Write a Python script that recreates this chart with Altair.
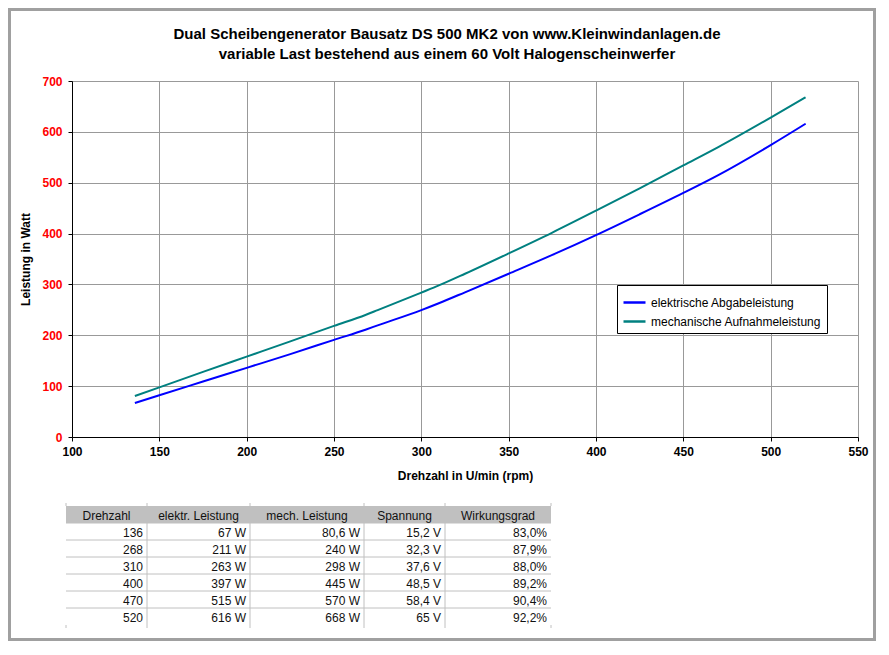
import altair as alt
import pandas as pd

# ---------------- data ----------------
title_lines = [
    "Dual Scheibengenerator Bausatz DS 500 MK2 von www.Kleinwindanlagen.de",
    "variable Last bestehend aus einem 60 Volt Halogenscheinwerfer",
]
x_title = "Drehzahl in U/min (rpm)"
y_title = "Leistung in Watt"
series_names = ["elektrische Abgabeleistung", "mechanische Aufnahmeleistung"]
series_colors = ["#0000FF", "#008080"]

rpm = [136, 150, 175, 200, 225, 250, 268, 275, 300, 310, 325, 350, 375, 400, 425, 450, 470, 500, 520]
elec = [67, 82, 109, 136, 163, 191, 211, 219.5, 249.5, 263, 284.5, 321, 358, 397, 438, 480, 515, 574, 616]
mech = [80.6, 97.5, 128, 158, 188, 218.5, 240, 249.5, 284, 298, 321, 361, 402, 445, 489, 534, 570, 628, 668]

x_ticks = [100, 150, 200, 250, 300, 350, 400, 450, 500, 550]
y_ticks = [0, 100, 200, 300, 400, 500, 600, 700]

table_header = ["Drehzahl", "elektr. Leistung", "mech. Leistung", "Spannung", "Wirkungsgrad"]
tab_drehzahl = [136, 268, 310, 400, 470, 520]
tab_elektr = [67, 211, 263, 397, 515, 616]
tab_mech = [80.6, 240, 298, 445, 570, 668]
tab_spannung = [15.2, 32.3, 37.6, 48.5, 58.4, 65]
tab_wirkung = [83.0, 87.9, 88.0, 89.2, 90.4, 92.2]

# ---------------- layout (pixels, relative to plot origin) ----------------
FONT = "Liberation Sans"
PLOT_W, PLOT_H = 786, 356
PAD_L, PAD_T, PAD_R, PAD_B = 64, 73, 18, 204

col_edges = [-6, 75, 178, 292, 373, 479]
head_top = 425
row_h = 17
n_rows = len(tab_drehzahl)

# ---------------- frames ----------------
def de(v, fmt):
    return format(v, fmt).replace(".", ",")

line_df = pd.DataFrame(
    {"rpm": rpm * 2,
     "watt": elec + mech,
     "series": [series_names[0]] * len(rpm) + [series_names[1]] * len(rpm)}
)

cells = []
cols_text = [
    [str(v) for v in tab_drehzahl],
    [de(v, "g") + " W" for v in tab_elektr],
    [de(v, "g") + " W" for v in tab_mech],
    [de(v, "g") + " V" for v in tab_spannung],
    [de(v, ".1f") + "%" for v in tab_wirkung],
]
for c, col in enumerate(cols_text):
    for r, t in enumerate(col):
        cells.append({"px": col_edges[c + 1] - 4,
                      "py": head_top + row_h * (r + 1) + row_h / 2 + 1,
                      "t": t})
cell_df = pd.DataFrame(cells)
head_df = pd.DataFrame({
    "px": [(col_edges[i] + col_edges[i + 1]) / 2 for i in range(len(table_header))],
    "py": [head_top + row_h / 2 + 1] * len(table_header),
    "t": table_header,
})
hline_df = pd.DataFrame({"py": [head_top + row_h * (i + 1) for i in range(n_rows)]})
vline_df = pd.DataFrame({"px": col_edges[1:-1]})
stub_df = pd.DataFrame({
    "px": [col_edges[0], col_edges[0], col_edges[-1], col_edges[-1]],
    "py": [head_top - 3, head_top + row_h * (n_rows + 1), head_top - 3, head_top + row_h * (n_rows + 1)],
    "py2": [head_top, head_top + row_h * (n_rows + 1) + 3, head_top, head_top + row_h * (n_rows + 1) + 3],
})
one = pd.DataFrame({"a": [0]})

# ---------------- chart ----------------
lines = alt.Chart(line_df).mark_line(strokeWidth=2, interpolate="monotone").encode(
    x=alt.X("rpm:Q",
            scale=alt.Scale(domain=[100, 550], nice=False, zero=False),
            axis=alt.Axis(values=x_ticks, title=x_title, labelColor="black",
                          labelPadding=5, titlePadding=13, labelFlush=False)),
    y=alt.Y("watt:Q",
            scale=alt.Scale(domain=[0, 700], nice=False),
            axis=alt.Axis(values=y_ticks, title=y_title, labelColor="#FF0000",
                          labelPadding=6, titlePadding=9)),
    color=alt.Color("series:N",
                    scale=alt.Scale(domain=series_names, range=series_colors),
                    legend=alt.Legend(title=None, orient="none", legendX=545, legendY=204,
                                      strokeColor="black", fillColor="white", padding=5,
                                      symbolType="stroke", symbolSize=484, symbolStrokeWidth=2.5,
                                      labelFont=FONT, labelFontSize=12, labelColor="black",
                                      labelOffset=4, rowPadding=0, labelLimit=400)),
)

title1 = alt.Chart(one).mark_text(font=FONT, fontSize=15, fontWeight="bold", align="center",
                                  baseline="alphabetic", color="black").encode(
    x=alt.value(375), y=alt.value(-42), text=alt.value(title_lines[0]))
title2 = alt.Chart(one).mark_text(font=FONT, fontSize=15, fontWeight="bold", align="center",
                                  baseline="alphabetic", color="black").encode(
    x=alt.value(375), y=alt.value(-22), text=alt.value(title_lines[1]))

head_bg = alt.Chart(one).mark_rect(color="#C0C0C0").encode(
    x=alt.value(col_edges[0]), x2=alt.value(col_edges[-1]),
    y=alt.value(head_top), y2=alt.value(head_top + row_h))

hlines = alt.Chart(hline_df).mark_rule(color="#C0C0C0", strokeWidth=1).encode(
    x=alt.value(col_edges[0]), x2=alt.value(col_edges[-1]),
    y=alt.Y("py:Q", scale=None, axis=None))
vlines = alt.Chart(vline_df).mark_rule(color="#C0C0C0", strokeWidth=1).encode(
    x=alt.X("px:Q", scale=None, axis=None),
    y=alt.value(head_top - 3), y2=alt.value(head_top + row_h * (n_rows + 1) + 3))
stubs = alt.Chart(stub_df).mark_rule(color="#C0C0C0", strokeWidth=1).encode(
    x=alt.X("px:Q", scale=None, axis=None),
    y=alt.Y("py:Q", scale=None, axis=None), y2="py2:Q")

head_text = alt.Chart(head_df).mark_text(font=FONT, fontSize=12, align="center",
                                         baseline="middle", color="#111111").encode(
    x=alt.X("px:Q", scale=None, axis=None),
    y=alt.Y("py:Q", scale=None, axis=None), text="t:N")
cell_text = alt.Chart(cell_df).mark_text(font=FONT, fontSize=12, align="right",
                                         baseline="middle", color="#111111").encode(
    x=alt.X("px:Q", scale=None, axis=None),
    y=alt.Y("py:Q", scale=None, axis=None), text="t:N")

frame = alt.Chart(one).mark_rect(fill=None, stroke="#A0A0A0", strokeWidth=3).encode(
    x=alt.value(-PAD_L + 1.5), x2=alt.value(PLOT_W + PAD_R - 1.5),
    y=alt.value(-PAD_T + 1.5), y2=alt.value(PLOT_H + PAD_B - 1.5))

chart = alt.layer(
    lines, title1, title2, head_bg, hlines, vlines, stubs, head_text, cell_text, frame
).properties(
    width=PLOT_W, height=PLOT_H,
    autosize=alt.AutoSizeParams(type="none"),
    padding={"left": PAD_L, "top": PAD_T, "right": PAD_R, "bottom": PAD_B},
    background="white",
).configure_view(stroke=None).configure_axis(
    grid=True, gridColor="#999999", gridWidth=1,
    domainColor="black", domainWidth=1, tickColor="black", tickSize=4, tickWidth=1,
    labelFont=FONT, labelFontSize=12, labelFontWeight="bold",
    titleFont=FONT, titleFontSize=12, titleFontWeight="bold", titleColor="black",
)

chart.save("out.html", embed_options={"renderer": "svg", "actions": False})
